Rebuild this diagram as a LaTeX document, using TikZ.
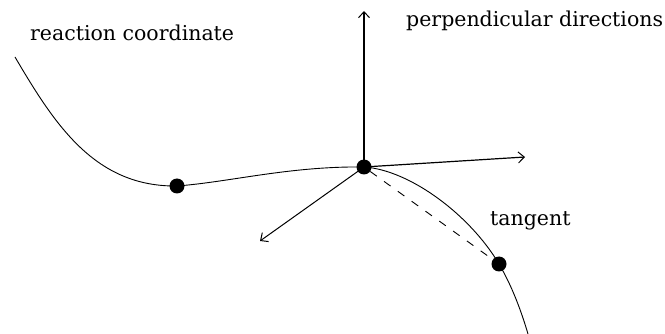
\documentclass[tikz,border=0pt]{standalone}
\usepackage{fontspec}
\setmainfont{DejaVu Serif}
\usetikzlibrary{arrows.meta}
\begin{document}
\begin{tikzpicture}[x=1pt,y=-1pt,
  dotnode/.style={circle,fill=black,inner sep=0pt,minimum size=15pt},
  curveline/.style={line width=0.9pt},
  vecline/.style={line width=1.2pt,-{Straight Barb[length=6pt,width=11pt,line width=1pt]}},
  lbl/.style={font=\fontsize{20.5}{24}\selectfont,inner sep=0pt,anchor=west}]
\useasboundingbox (0,0) rectangle (665,334);
\coordinate (p0) at (15,57);
\coordinate (p14) at (528,334);
\coordinate (A) at (177,186);
\coordinate (C) at (364,167);
\coordinate (B) at (499,264);
\draw[curveline] (p0) .. controls (55,125) and (95,187) .. (A)
  .. controls (230,182) and (290,166) .. (C)
  .. controls (410,170) and (470,215) .. (B)
  .. controls (511,284) and (521,310) .. (p14);
% arrow tips
\coordinate (up) at (364,11);
\coordinate (rt) at (525,157);
\coordinate (dl) at (260,241);
\node[dotnode] (nA) at (A) {};
\node[dotnode] (nC) at (C) {};
\node[dotnode] (nB) at (B) {};
\draw[vecline] (nC.center) -- (up);
\draw[vecline] (nC.center) -- (rt);
\draw[vecline,line width=1pt] (nC.center) -- (dl);
\draw[line width=0.9pt,dash pattern=on 8pt off 9pt] (nC) -- (nB);
% labels
\node[lbl] (t1) at (30,33) {reaction coordinate};
\node[lbl] (t2) at (406,21) {perpendicular directions};
\node[lbl] (t3) at (490,221) {tangent};
\end{tikzpicture}
\end{document}
